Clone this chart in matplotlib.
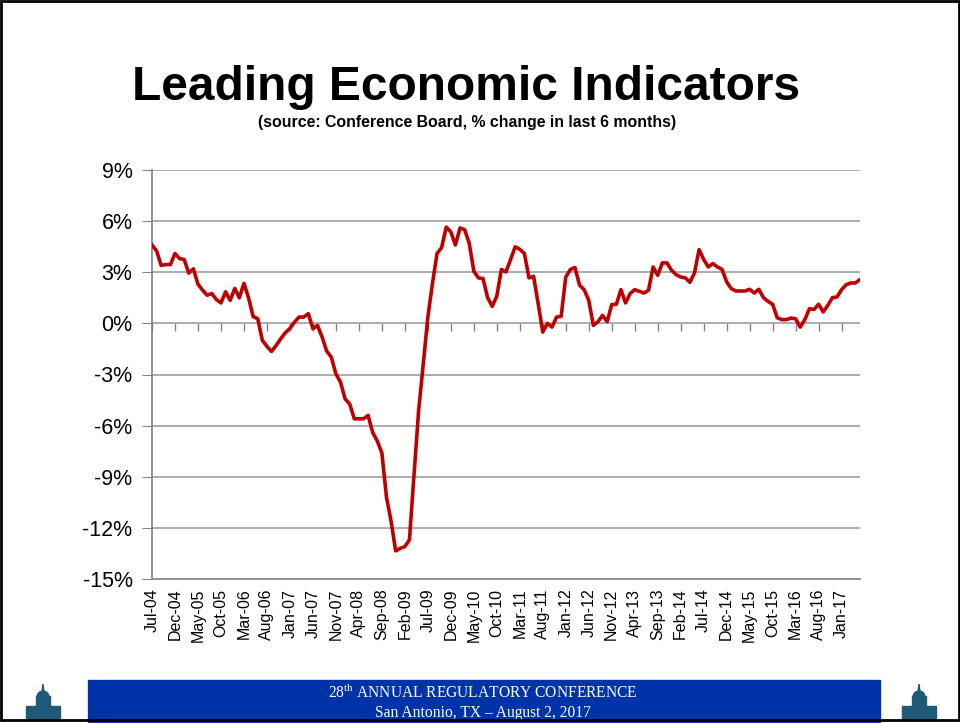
import matplotlib
matplotlib.use("Agg")
import matplotlib.pyplot as plt
from matplotlib.patches import Rectangle, Ellipse, Polygon

plt.rcParams["font.family"] = ["Liberation Sans", "DejaVu Sans"]
plt.rcParams["mathtext.fontset"] = "custom"
plt.rcParams["mathtext.rm"] = "Liberation Serif"

# monthly % change in last 6 months, Jul-04 .. May-17
months_start = (2004, 7)
lei = [
    4.6, 4.25, 3.4, 3.45, 3.45, 4.1, 3.8, 3.75, 2.95, 3.2,
    2.3, 1.95, 1.65, 1.75, 1.4, 1.2, 1.85, 1.35, 2.05, 1.5,
    2.35, 1.5, 0.4, 0.27, -1.0, -1.35, -1.65, -1.3, -0.9, -0.55,
    -0.3, 0.08, 0.37, 0.37, 0.57, -0.31, -0.12, -0.8, -1.63, -1.98,
    -2.96, -3.45, -4.43, -4.73, -5.6, -5.6, -5.6, -5.4, -6.4, -6.9,
    -7.6, -10.2, -11.6, -13.35, -13.2, -13.1, -12.7, -8.85, -5.1, -2.4,
    0.37, 2.33, 4.1, 4.45, 5.65, 5.37, 4.6, 5.6, 5.5, 4.7,
    3.06, 2.67, 2.63, 1.51, 1.0, 1.6, 3.16, 3.02, 3.75, 4.49,
    4.35, 4.1, 2.67, 2.76, 1.16, -0.51, 0.0, -0.22, 0.37, 0.41,
    2.72, 3.16, 3.28, 2.24, 1.98, 1.35, -0.12, 0.1, 0.47, 0.1,
    1.1, 1.12, 1.98, 1.2, 1.75, 1.98, 1.88, 1.78, 1.94, 3.31,
    2.82, 3.55, 3.55, 3.12, 2.86, 2.72, 2.67, 2.41, 2.96, 4.33,
    3.75, 3.31, 3.51, 3.31, 3.16, 2.43, 2.04, 1.9, 1.9, 1.9,
    2.0, 1.78, 2.0, 1.51, 1.29, 1.12, 0.33, 0.22, 0.22, 0.31,
    0.27, -0.22, 0.22, 0.86, 0.82, 1.12, 0.67, 1.06, 1.51, 1.55,
    1.98, 2.27, 2.37, 2.37, 2.57,
]
month_names = ["Jan", "Feb", "Mar", "Apr", "May", "Jun",
               "Jul", "Aug", "Sep", "Oct", "Nov", "Dec"]
y_ticks = [9, 6, 3, 0, -3, -6, -9, -12, -15]
label_step = 5


def month_label(i):
    y, m = months_start
    k = (m - 1) + i
    return f"{month_names[k % 12]}-{(y + k // 12) % 100:02d}"


def fig_xy(px, py):
    return px / 960, 1 - py / 723


def draw_logo(fig, x0, y0):
    # small building icon in the footer corners (pixel coords, top-left origin)
    c = "#1f5a78"
    tf = fig.transFigure
    fig.patches.append(Rectangle(fig_xy(x0, y0 + 34), 34 / 960, 14 / 723,
                                 transform=tf, color=c))
    fig.patches.append(Rectangle(fig_xy(x0 + 10, y0 + 20), 14 / 960, 10 / 723,
                                 transform=tf, color=c))
    fig.patches.append(Ellipse(fig_xy(x0 + 17, y0 + 11), 12 / 960, 12 / 723,
                               transform=tf, color=c))
    fig.patches.append(Polygon([fig_xy(x0 + 16, y0 + 6), fig_xy(x0 + 18, y0 + 6),
                                fig_xy(x0 + 17, y0 - 2)],
                               transform=tf, color=c))


labels = [month_label(i) for i in range(len(lei))]
x = list(range(len(lei)))

fig = plt.figure(figsize=(9.6, 7.23), dpi=100)
ax = fig.add_axes([152 / 960, 1 - 579 / 723, 708 / 960, 409 / 723])

ax.plot(x, lei, color="#c00000", lw=2.6, solid_joinstyle="round", zorder=3)

ax.set_xlim(0, len(lei) - 1)
ax.set_ylim(-15, 9)
ax.set_yticks(y_ticks)
ax.set_yticklabels([f"{v}%" for v in y_ticks], fontsize=15.5)
ax.yaxis.grid(True, color="#a6a6a6", lw=1.3)
ax.set_axisbelow(True)
ax.tick_params(axis="y", direction="out", length=7, color="#808080", pad=7)

tick_pos = x[::label_step]
ax.set_xticks(tick_pos)
ax.set_xticklabels(labels[::label_step], rotation=90, fontsize=11.5)
ax.tick_params(axis="x", length=0, pad=7)

for s in ["top", "right"]:
    ax.spines[s].set_visible(False)
ax.spines["left"].set_color("#808080")
ax.spines["bottom"].set_color("#8c8c8c")
ax.spines["left"].set_linewidth(1.2)
ax.spines["bottom"].set_linewidth(1.3)

# category axis crossing at 0%
zero_frac = (0 - (-15)) / (9 - (-15))
sec = ax.secondary_xaxis(zero_frac)
sec.set_xticks(tick_pos)
sec.set_xticklabels([])
sec.tick_params(direction="in", length=6, color="#808080", width=1)
sec.spines["bottom"].set_color("#808080")
sec.spines["bottom"].set_linewidth(1.3)
for s in ["top", "left", "right"]:
    sec.spines[s].set_visible(False)

fig.text(466 / 960, 1 - 87 / 723, "Leading Economic Indicators",
         ha="center", va="center", fontsize=34.5, fontweight="bold")
fig.text(467 / 960, 1 - 122 / 723,
         "(source: Conference Board, % change in last 6 months)",
         ha="center", va="center", fontsize=11.4, fontweight="bold")

# footer band
fig.patches.append(Rectangle((88 / 960, 0), 792 / 960, 43 / 723,
                             transform=fig.transFigure, color="#0033a8", zorder=1))
fig.text(483 / 960, 1 - 693 / 723,
         r"28$^{\mathrm{th}}$ ANNUAL REGULATORY CONFERENCE",
         ha="center", va="center", fontsize=11.2, color="white",
         family="Liberation Serif", zorder=2)
fig.text(483 / 960, 1 - 713 / 723, "San Antonio, TX \u2013 August 2, 2017",
         ha="center", va="center", fontsize=11.2, color="white",
         family="Liberation Serif", zorder=2)

draw_logo(fig, 26, 686)
draw_logo(fig, 902, 686)

# slide frame
fig.patches.append(Rectangle((0.001, 0.004), 0.998, 0.995, transform=fig.transFigure,
                             fill=False, edgecolor="black", lw=2, zorder=5))

fig.savefig("out.png", dpi=100)
